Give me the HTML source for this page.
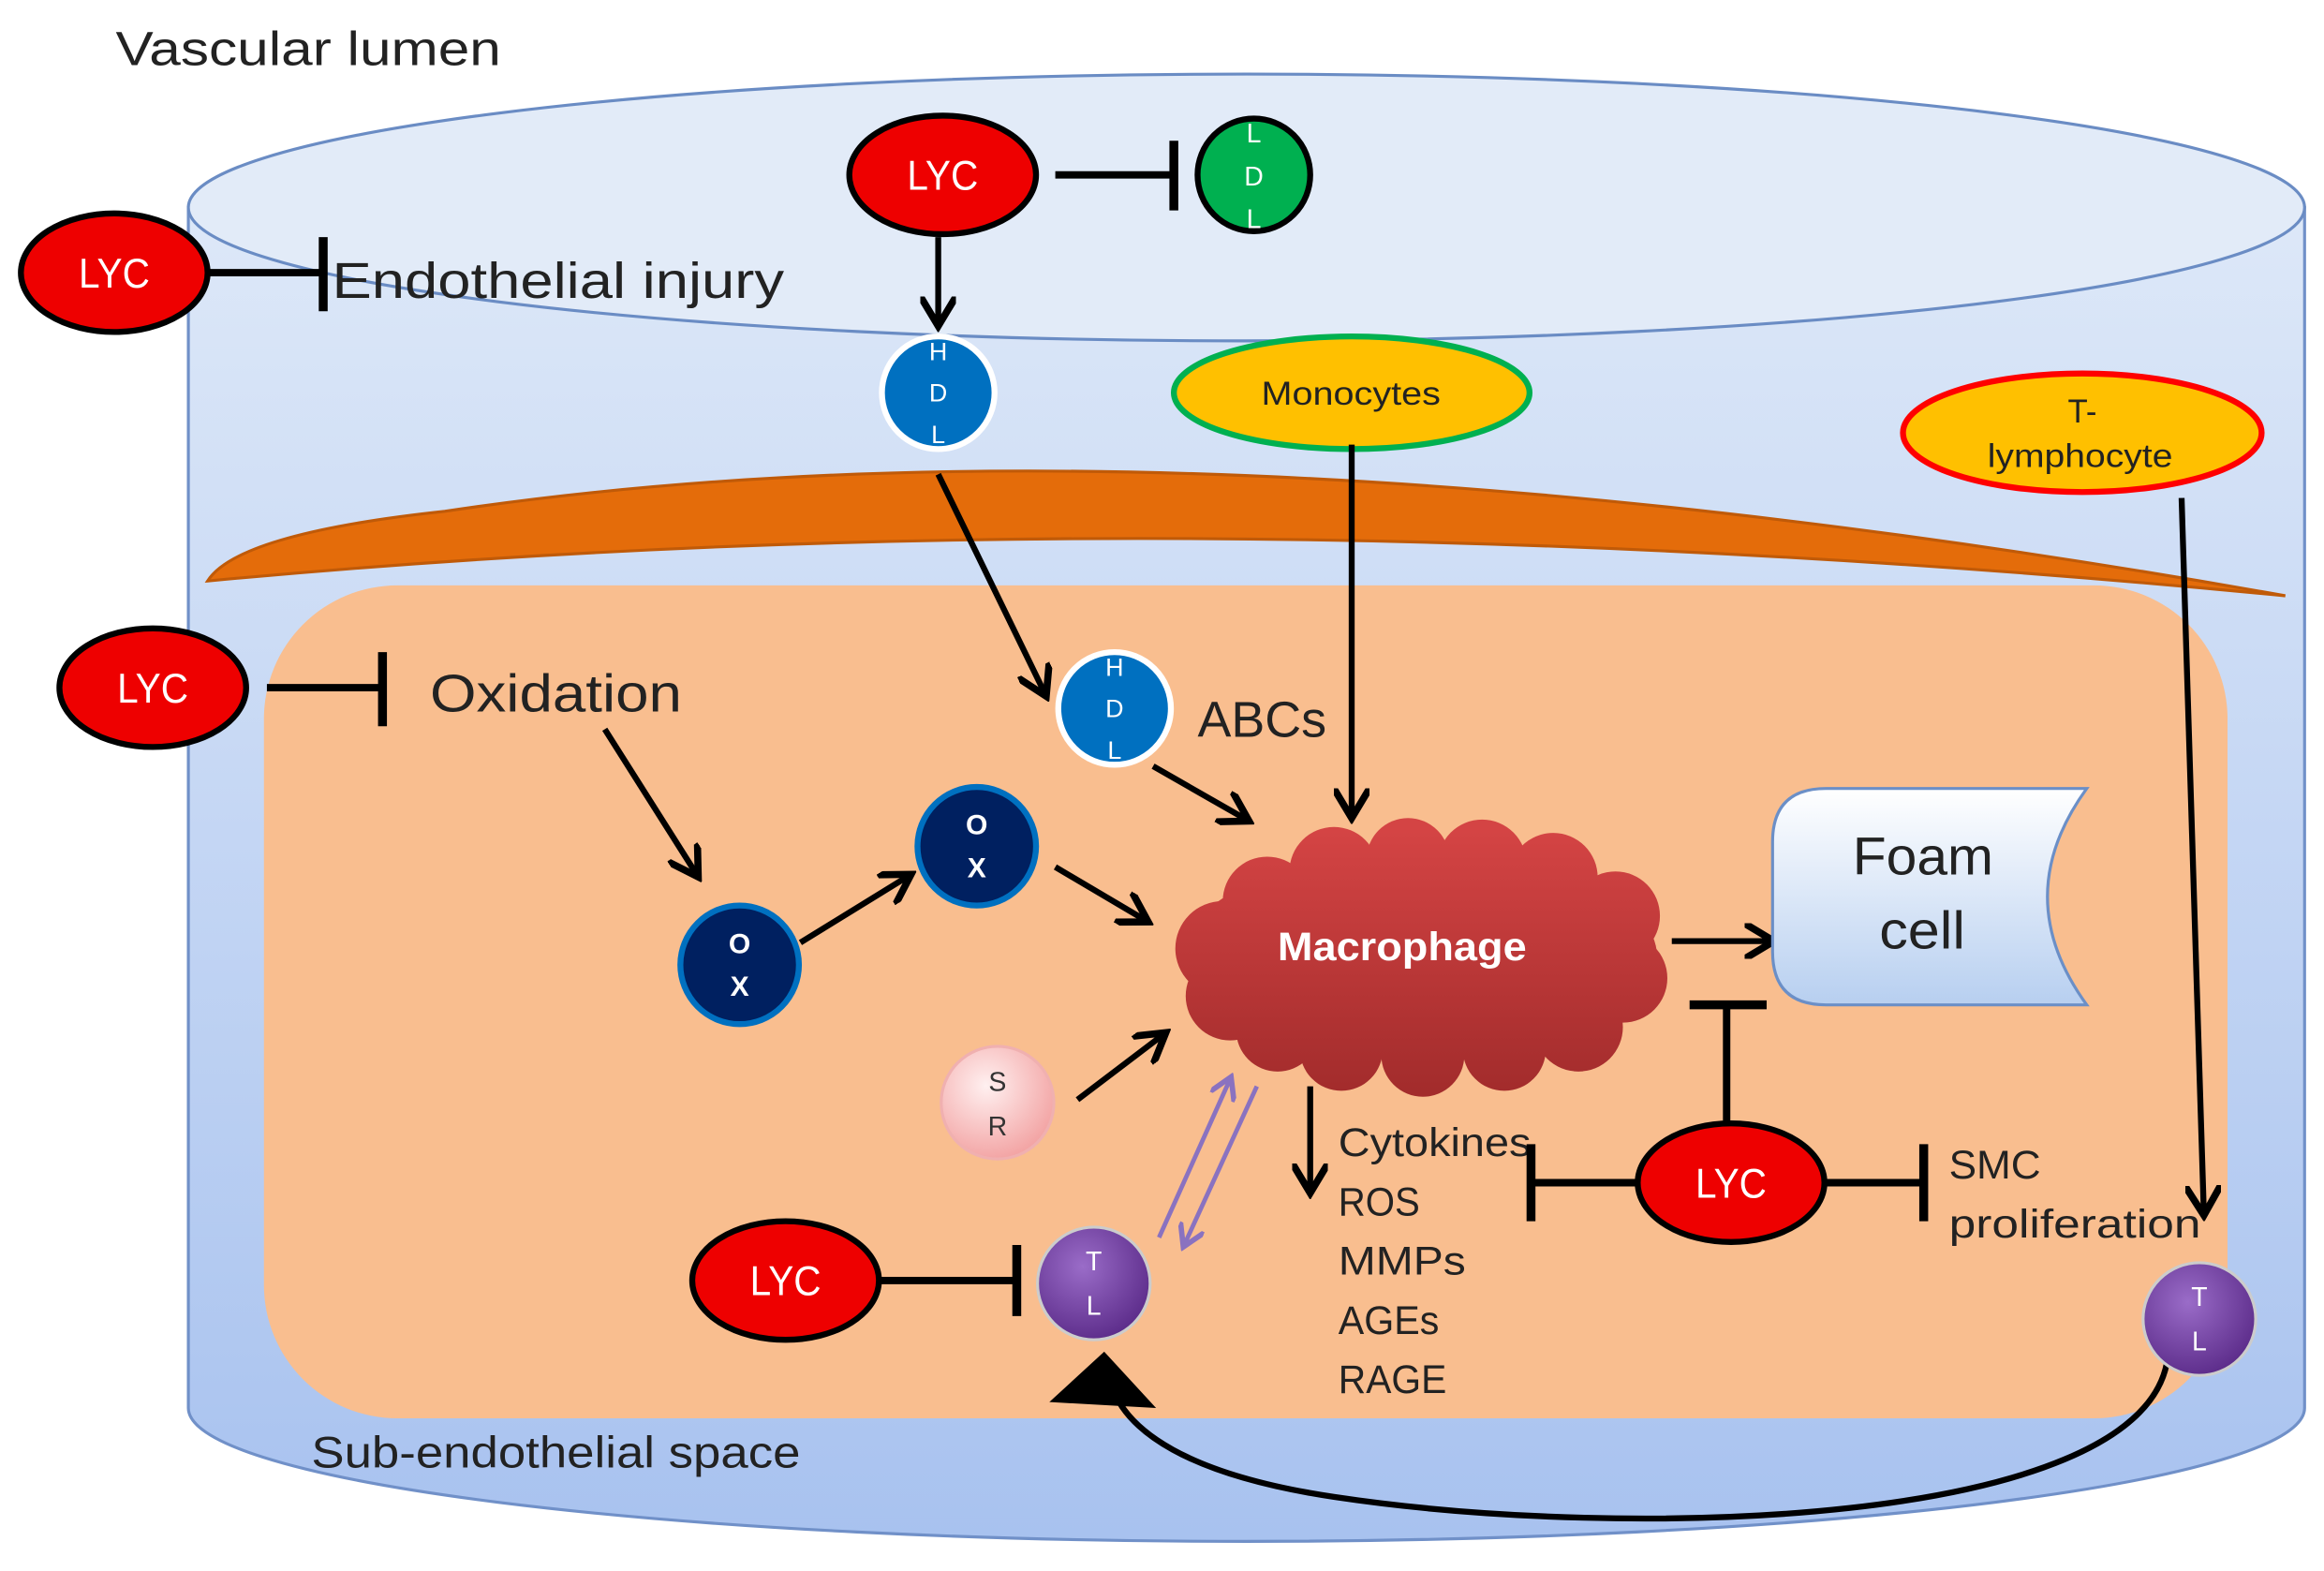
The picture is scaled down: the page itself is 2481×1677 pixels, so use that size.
<!DOCTYPE html>
<html><head><meta charset="utf-8"><style>
html,body{margin:0;padding:0;background:#fff;}
svg{display:block;}
text{font-family:"Liberation Sans",sans-serif;}
</style></head><body>
<svg width="2481" height="1677" viewBox="0 0 1568 1060" xmlns="http://www.w3.org/2000/svg">
<defs>
<linearGradient id="cyl" x1="0" y1="0" x2="0" y2="1"><stop offset="0" stop-color="#dde8f8"/><stop offset="1" stop-color="#a8c2ef"/></linearGradient>
<linearGradient id="foam" x1="0" y1="0" x2="0" y2="1"><stop offset="0" stop-color="#ffffff"/><stop offset="1" stop-color="#b7cff0"/></linearGradient>
<linearGradient id="mac" gradientUnits="userSpaceOnUse" x1="0" y1="560" x2="0" y2="735"><stop offset="0" stop-color="#d44444"/><stop offset="1" stop-color="#a32c2c"/></linearGradient>
<radialGradient id="sr" cx="0.4" cy="0.35" r="0.7"><stop offset="0" stop-color="#fff0f0"/><stop offset="1" stop-color="#f2a0a0"/></radialGradient>
<radialGradient id="tl" cx="0.4" cy="0.35" r="0.7"><stop offset="0" stop-color="#9a6cc8"/><stop offset="1" stop-color="#5a2a88"/></radialGradient>
<marker id="ah" markerWidth="6" markerHeight="6" refX="4.5" refY="3" orient="auto" markerUnits="strokeWidth"><path d="M0,0 L5,3 L0,6" fill="none" stroke="#000" stroke-width="1.2"/></marker>
<marker id="ahp" markerWidth="6" markerHeight="6" refX="4.5" refY="3" orient="auto" markerUnits="strokeWidth"><path d="M0,0 L5,3 L0,6" fill="none" stroke="#8a72c0" stroke-width="1.2"/></marker>
</defs>
<text x="78" y="44" font-size="32" fill="#222" textLength="260" lengthAdjust="spacingAndGlyphs">Vascular lumen</text>
<path d="M127,140 V950 A714,90 0 0 0 1555,950 V140 Z" fill="url(#cyl)" stroke="#7090c8" stroke-width="2"/>
<ellipse cx="841" cy="140" rx="714" ry="90" fill="#e2ebf8" stroke="#6a8cc4" stroke-width="2"/>
<path d="M140,392 Q160,360 300,345 Q800,270 1542,402 Q800,330 140,392 Z" fill="#e46c0a" stroke="#c05a08" stroke-width="2"/>
<rect x="178" y="395" width="1325" height="562" rx="90" fill="#f9be8f"/>
<text x="210" y="990" font-size="30" fill="#222" textLength="330" lengthAdjust="spacingAndGlyphs">Sub-endothelial space</text>
<path d="M1462,920 C1440,1030 1100,1040 900,1010 C800,995 760,965 750,935" fill="none" stroke="#000" stroke-width="4"/>
<path d="M708,946 L745,912 L780,950 Z" fill="#000"/>
<ellipse cx="636" cy="118" rx="63" ry="40" fill="#ee0000" stroke="#000" stroke-width="4"/>
<text x="612" y="128" font-size="28" fill="#fff" textLength="48" lengthAdjust="spacingAndGlyphs">LYC</text>
<line x1="712" y1="118" x2="792" y2="118" stroke="#000" stroke-width="5"/>
<line x1="792" y1="95" x2="792" y2="142" stroke="#000" stroke-width="6"/>
<circle cx="846" cy="118" r="38" fill="#00b050" stroke="#000" stroke-width="4"/>
<text x="846" y="96" font-size="18" fill="#fff" text-anchor="middle">L</text>
<text x="846" y="125" font-size="18" fill="#fff" text-anchor="middle">D</text>
<text x="846" y="154" font-size="18" fill="#fff" text-anchor="middle">L</text>
<ellipse cx="77" cy="184" rx="63" ry="40" fill="#ee0000" stroke="#000" stroke-width="4"/>
<text x="53" y="194" font-size="28" fill="#fff" textLength="48" lengthAdjust="spacingAndGlyphs">LYC</text>
<line x1="140" y1="184" x2="218" y2="184" stroke="#000" stroke-width="5"/>
<line x1="218" y1="160" x2="218" y2="210" stroke="#000" stroke-width="6"/>
<text x="224" y="201" font-size="34" fill="#222" textLength="305" lengthAdjust="spacingAndGlyphs">Endothelial injury</text>
<line x1="633" y1="160" x2="633" y2="218" stroke="#000" stroke-width="4" marker-end="url(#ah)"/>
<circle cx="633" cy="265" r="38" fill="#0070c0" stroke="#fff" stroke-width="4"/>
<text x="633" y="243" font-size="17" fill="#fff" text-anchor="middle">H</text>
<text x="633" y="271" font-size="17" fill="#fff" text-anchor="middle">D</text>
<text x="633" y="299" font-size="17" fill="#fff" text-anchor="middle">L</text>
<ellipse cx="912" cy="265" rx="120" ry="38" fill="#ffc000" stroke="#00b050" stroke-width="4"/>
<text x="851" y="273" font-size="22" fill="#222" textLength="121" lengthAdjust="spacingAndGlyphs">Monocytes</text>
<ellipse cx="1405" cy="292" rx="121" ry="40" fill="#ffc000" stroke="#ff0000" stroke-width="4"/>
<text x="1405" y="285" font-size="22" fill="#222" text-anchor="middle">T-</text>
<text x="1341" y="315" font-size="22" fill="#222" textLength="125" lengthAdjust="spacingAndGlyphs">lymphocyte</text>
<line x1="633" y1="320" x2="705" y2="468" stroke="#000" stroke-width="4" marker-end="url(#ah)"/>
<line x1="912" y1="300" x2="912" y2="550" stroke="#000" stroke-width="4" marker-end="url(#ah)"/>
<line x1="1472" y1="336" x2="1487" y2="818" stroke="#000" stroke-width="4" marker-end="url(#ah)"/>
<circle cx="752" cy="478" r="38" fill="#0070c0" stroke="#fff" stroke-width="4"/>
<text x="752" y="456" font-size="17" fill="#fff" text-anchor="middle">H</text>
<text x="752" y="484" font-size="17" fill="#fff" text-anchor="middle">D</text>
<text x="752" y="512" font-size="17" fill="#fff" text-anchor="middle">L</text>
<text x="808" y="497" font-size="34" fill="#222" textLength="87" lengthAdjust="spacingAndGlyphs">ABCs</text>
<line x1="778" y1="517" x2="841" y2="553" stroke="#000" stroke-width="4" marker-end="url(#ah)"/>
<ellipse cx="103" cy="464" rx="63" ry="40" fill="#ee0000" stroke="#000" stroke-width="4"/>
<text x="79" y="474" font-size="28" fill="#fff" textLength="48" lengthAdjust="spacingAndGlyphs">LYC</text>
<line x1="180" y1="464" x2="258" y2="464" stroke="#000" stroke-width="5"/>
<line x1="258" y1="440" x2="258" y2="490" stroke="#000" stroke-width="6"/>
<text x="290" y="480" font-size="36" fill="#222" textLength="170" lengthAdjust="spacingAndGlyphs">Oxidation</text>
<line x1="408" y1="492" x2="470" y2="590" stroke="#000" stroke-width="4" marker-end="url(#ah)"/>
<circle cx="499" cy="651" r="40" fill="#002060" stroke="#0070c0" stroke-width="4"/>
<text x="499" y="643" font-size="19" fill="#fff" text-anchor="middle" font-weight="bold">O</text>
<text x="499" y="672" font-size="19" fill="#fff" text-anchor="middle" font-weight="bold">X</text>
<circle cx="659" cy="571" r="40" fill="#002060" stroke="#0070c0" stroke-width="4"/>
<text x="659" y="563" font-size="19" fill="#fff" text-anchor="middle" font-weight="bold">O</text>
<text x="659" y="592" font-size="19" fill="#fff" text-anchor="middle" font-weight="bold">X</text>
<line x1="540" y1="636" x2="613" y2="591" stroke="#000" stroke-width="4" marker-end="url(#ah)"/>
<line x1="712" y1="585" x2="773" y2="621" stroke="#000" stroke-width="4" marker-end="url(#ah)"/>
<g fill="url(#mac)">
<ellipse cx="958" cy="645" rx="160" ry="70"/>
<circle cx="825" cy="640" r="32"/>
<circle cx="830" cy="672" r="30"/>
<circle cx="855" cy="608" r="30"/>
<circle cx="900" cy="588" r="30"/>
<circle cx="950" cy="580" r="28"/>
<circle cx="1000" cy="583" r="30"/>
<circle cx="1048" cy="592" r="30"/>
<circle cx="1090" cy="618" r="30"/>
<circle cx="1095" cy="660" r="30"/>
<circle cx="1065" cy="693" r="30"/>
<circle cx="1015" cy="708" r="28"/>
<circle cx="960" cy="712" r="28"/>
<circle cx="905" cy="708" r="28"/>
<circle cx="862" cy="695" r="28"/>
</g>
<text x="862" y="648" font-size="27" fill="#fff" font-weight="bold" textLength="168" lengthAdjust="spacingAndGlyphs">Macrophage</text>
<line x1="1128" y1="635" x2="1195" y2="635" stroke="#000" stroke-width="4" marker-end="url(#ah)"/>
<path d="M1232,532 H1408 Q1355,605 1408,678 H1232 Q1196,678 1196,642 V568 Q1196,532 1232,532 Z" fill="url(#foam)" stroke="#6b8fc7" stroke-width="2"/>
<text x="1250" y="590" font-size="36" fill="#222" textLength="95" lengthAdjust="spacingAndGlyphs">Foam</text>
<text x="1268" y="640" font-size="36" fill="#222" textLength="58" lengthAdjust="spacingAndGlyphs">cell</text>
<circle cx="673" cy="744" r="38" fill="url(#sr)" stroke="#f0b0b0" stroke-width="2"/>
<text x="673" y="736" font-size="18" fill="#333" text-anchor="middle">S</text>
<text x="673" y="766" font-size="18" fill="#333" text-anchor="middle">R</text>
<line x1="727" y1="742" x2="785" y2="698" stroke="#000" stroke-width="4" marker-end="url(#ah)"/>
<line x1="782" y1="835" x2="830" y2="728" stroke="#8a72c0" stroke-width="3" marker-end="url(#ahp)"/>
<line x1="848" y1="733" x2="799" y2="840" stroke="#8a72c0" stroke-width="3" marker-end="url(#ahp)"/>
<line x1="884" y1="733" x2="884" y2="803" stroke="#000" stroke-width="4" marker-end="url(#ah)"/>
<g font-size="27" fill="#222">
<text x="903" y="780" textLength="130" lengthAdjust="spacingAndGlyphs">Cytokines</text>
<text x="903" y="820" textLength="55" lengthAdjust="spacingAndGlyphs">ROS</text>
<text x="903" y="860" textLength="86" lengthAdjust="spacingAndGlyphs">MMPs</text>
<text x="903" y="900" textLength="68" lengthAdjust="spacingAndGlyphs">AGEs</text>
<text x="903" y="940" textLength="73" lengthAdjust="spacingAndGlyphs">RAGE</text>
</g>
<ellipse cx="1168" cy="798" rx="63" ry="40" fill="#ee0000" stroke="#000" stroke-width="4"/>
<text x="1144" y="808" font-size="28" fill="#fff" textLength="48" lengthAdjust="spacingAndGlyphs">LYC</text>
<line x1="1165" y1="758" x2="1165" y2="678" stroke="#000" stroke-width="5"/>
<line x1="1140" y1="678" x2="1192" y2="678" stroke="#000" stroke-width="6"/>
<line x1="1105" y1="798" x2="1033" y2="798" stroke="#000" stroke-width="5"/>
<line x1="1033" y1="772" x2="1033" y2="824" stroke="#000" stroke-width="6"/>
<line x1="1232" y1="798" x2="1298" y2="798" stroke="#000" stroke-width="5"/>
<line x1="1298" y1="772" x2="1298" y2="824" stroke="#000" stroke-width="6"/>
<text x="1315" y="795" font-size="27" fill="#222" textLength="62" lengthAdjust="spacingAndGlyphs">SMC</text>
<text x="1315" y="835" font-size="27" fill="#222" textLength="170" lengthAdjust="spacingAndGlyphs">proliferation</text>
<ellipse cx="530" cy="864" rx="63" ry="40" fill="#ee0000" stroke="#000" stroke-width="4"/>
<text x="506" y="874" font-size="28" fill="#fff" textLength="48" lengthAdjust="spacingAndGlyphs">LYC</text>
<line x1="594" y1="864" x2="686" y2="864" stroke="#000" stroke-width="5"/>
<line x1="686" y1="840" x2="686" y2="888" stroke="#000" stroke-width="6"/>
<circle cx="738" cy="866" r="38" fill="url(#tl)" stroke="#ccc" stroke-width="2"/>
<text x="738" y="857" font-size="18" fill="#fff" text-anchor="middle">T</text>
<text x="738" y="887" font-size="18" fill="#fff" text-anchor="middle">L</text>
<circle cx="1484" cy="890" r="38" fill="url(#tl)" stroke="#ccc" stroke-width="2"/>
<text x="1484" y="881" font-size="18" fill="#fff" text-anchor="middle">T</text>
<text x="1484" y="911" font-size="18" fill="#fff" text-anchor="middle">L</text>
</svg>
</body></html>
